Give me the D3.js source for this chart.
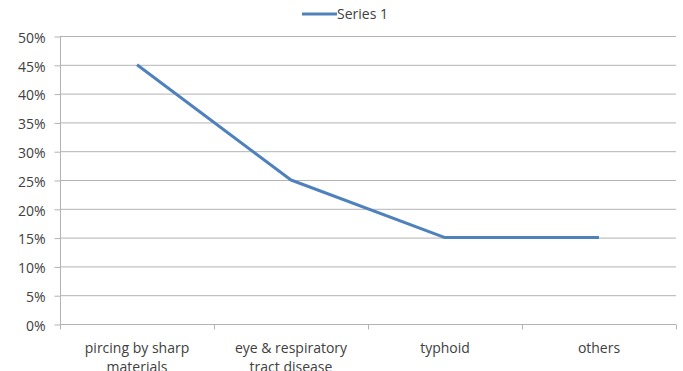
<!DOCTYPE html>
<html><head><meta charset="utf-8">
<script src="https://cdn.jsdelivr.net/npm/d3@7"></script>
<style>body{margin:0;background:#fff}svg{display:block}text{font-family:"Open Sans","Liberation Sans",sans-serif;fill:#404040}</style>
</head><body>
<svg id="c" width="683" height="371"></svg>
<script>
const categories = [["pircing by sharp","materials"],["eye & respiratory","tract disease"],["typhoid"],["others"]];
const series1 = [0.45, 0.25, 0.15, 0.15];
const yTicks = [0,0.05,0.10,0.15,0.20,0.25,0.30,0.35,0.40,0.45,0.50];
const seriesName = "Series 1";

const svg = d3.select("#c");
const L=60, R=676, T=36, B=324;
const x = d3.scaleBand().domain(d3.range(categories.length)).range([L,R]);
const y = d3.scaleLinear().domain([0,0.5]).range([B,T]);

// gridlines
svg.append("g").selectAll("line").data(yTicks).join("line")
  .attr("x1",L).attr("x2",R).attr("y1",d=>y(d)+0.5).attr("y2",d=>y(d)+0.5)
  .attr("stroke","#b3b3b3").attr("stroke-width",1);

// y axis
const ya = svg.append("g").attr("transform",`translate(${L+0.5},0.5)`)
  .call(d3.axisLeft(y).tickValues(yTicks).tickFormat(d3.format(".0%")).tickSize(6).tickPadding(9));
ya.select(".domain").attr("stroke","#b3b3b3").attr("d",`M-0,${T}V${B}`);
ya.selectAll(".tick line").attr("stroke","#b3b3b3");
ya.selectAll(".tick text").attr("font-size",14).attr("fill","#404040").attr("dy","0.42em")
  .attr("font-family","Open Sans, Liberation Sans, sans-serif");

// x axis
const xa = svg.append("g").attr("transform",`translate(0,${B+0.5})`);
xa.append("line").attr("x1",L).attr("x2",R).attr("stroke","#b3b3b3");
const bounds = d3.range(categories.length+1).map(i=> i<categories.length ? x(i) : x(i-1)+x.bandwidth());
xa.selectAll("line.t").data(bounds).join("line").attr("class","t")
  .attr("x1",d=>Math.round(d)+0.5).attr("x2",d=>Math.round(d)+0.5).attr("y1",0).attr("y2",5).attr("stroke","#b3b3b3");
const lbl = xa.selectAll("text").data(categories).join("text")
  .attr("text-anchor","middle").attr("font-size",14)
  .attr("transform",(d,i)=>`translate(${x(i)+x.bandwidth()/2},0)`);
lbl.selectAll("tspan").data(d=>d).join("tspan").attr("x",0).attr("y",(d,i)=>28+i*19).text(d=>d);

// line
const line = d3.line().x((d,i)=>x(i)+x.bandwidth()/2).y(d=>y(d));
svg.append("path").datum(series1).attr("d",line).attr("fill","none")
  .attr("stroke","#4f81bd").attr("stroke-width",3).attr("stroke-linejoin","round");

// legend
const lg = svg.append("g");
lg.append("line").attr("x1",302).attr("x2",337).attr("y1",14).attr("y2",14).attr("stroke","#4f81bd").attr("stroke-width",3);
lg.append("text").attr("x",337).attr("y",19).attr("font-size",14).text(seriesName);
</script>
</body></html>
